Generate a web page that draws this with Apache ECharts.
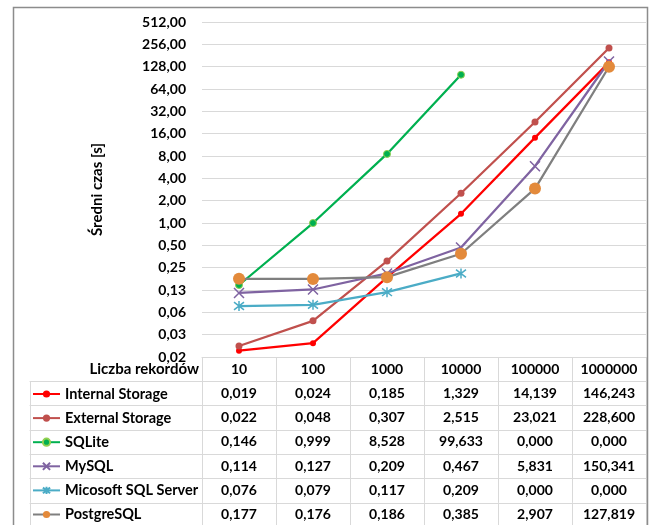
<!DOCTYPE html>
<html>
<head>
<meta charset="utf-8">
<script src="https://cdn.jsdelivr.net/npm/echarts@6/dist/echarts.min.js"></script>
<style>html,body{margin:0;padding:0;background:#fff}#c{width:655px;height:525px}</style>
</head>
<body>
<div id="c"></div>
<script>
const categories = ['10', '100', '1000', '10000', '100000', '1000000'];
const seriesNames = ['Internal Storage', 'External Storage', 'SQLite', 'MySQL', 'Micosoft SQL Server', 'PostgreSQL'];
const internalStorage = [0.019, 0.024, 0.185, 1.329, 14.139, 146.243];
const externalStorage = [0.022, 0.048, 0.307, 2.515, 23.021, 228.600];
const sqlite = [0.146, 0.999, 8.528, 99.633, 0, 0];
const mysql = [0.114, 0.127, 0.209, 0.467, 5.831, 150.341];
const mssql = [0.076, 0.079, 0.117, 0.209, 0, 0];
const postgres = [0.177, 0.176, 0.186, 0.385, 2.907, 127.819];
const yTickLabels = ['0,02', '0,03', '0,06', '0,13', '0,25', '0,50', '1,00', '2,00', '4,00', '8,00', '16,00', '32,00', '64,00', '128,00', '256,00', '512,00'];
const xAxisTitle = 'Liczba rekordów';
const yAxisTitle = 'Średni czas [s]';

const allSeries = [internalStorage, externalStorage, sqlite, mysql, mssql, postgres];
const FONT = 'Lato';
const ROW = 24.3;
const LINE_C = '#d9d9d9';
const fmt = v => v.toFixed(3).replace('.', ',');
const plotVal = arr => arr.map(v => (v > 0 ? v : null));

const X_PATH = 'path://M0,0L10,10M10,0L0,10';
const STAR_PATH = 'path://M0,0L10,10M10,0L0,10M5,-1.5L5,11.5';

const styles = [
  { line: '#FF0000', symbol: 'circle', size: 6, item: { color: '#FF0000' } },
  { line: '#C0504D', symbol: 'circle', size: 7, item: { color: '#C0504D' } },
  { line: '#00B050', symbol: 'circle', size: 7, item: { color: '#00B050', borderColor: '#92D050', borderWidth: 1 } },
  { line: '#7F63A1', symbol: X_PATH, size: 10, item: { color: 'rgba(0,0,0,0)', borderColor: '#7F63A1', borderWidth: 1.5 } },
  { line: '#4BACC6', symbol: STAR_PATH, size: 10, item: { color: 'rgba(0,0,0,0)', borderColor: '#4BACC6', borderWidth: 1.5 } },
  { line: '#7F7F7F', symbol: 'circle', size: 12, item: { color: '#E38A3B' } }
];

const xAxes = [];
xAxes.push({
  type: 'category', gridIndex: 0, data: categories, position: 'bottom',
  axisLine: { show: true, onZero: false, lineStyle: { color: LINE_C, width: 1 } },
  axisTick: { show: true, length: ROW, lineStyle: { color: LINE_C } },
  axisLabel: { color: '#000', fontFamily: FONT, fontWeight: 'bold', fontSize: 14, margin: 5 },
  splitLine: { show: false }
});
allSeries.forEach((arr, k) => {
  xAxes.push({
    type: 'category', gridIndex: 0, data: categories, position: 'bottom', offset: ROW * (k + 1),
    axisLine: { show: true, onZero: false, lineStyle: { color: LINE_C, width: 1 } },
    axisTick: { show: true, length: ROW, lineStyle: { color: LINE_C } },
    axisLabel: { color: '#000', fontFamily: FONT, fontWeight: 'bold', fontSize: 14, margin: 5,
      formatter: (val, idx) => fmt(arr[idx]) },
    splitLine: { show: false }
  });
});
allSeries.forEach((arr, k) => {
  xAxes.push({
    type: 'category', gridIndex: 1, data: [''], position: 'bottom', offset: ROW * (k + 1),
    axisLine: { show: true, onZero: false, lineStyle: { color: LINE_C, width: 1 } },
    axisTick: { show: true, length: ROW, lineStyle: { color: LINE_C } },
    axisLabel: { show: false },
    splitLine: { show: false }
  });
});

const option = {
  backgroundColor: '#fff',
  animation: false,
  textStyle: { fontFamily: FONT },
  title: {
    text: xAxisTitle, right: 655 - 199, top: 362, padding: 0,
    textStyle: { color: '#000', fontFamily: FONT, fontWeight: 'bold', fontSize: 15 }
  },
  grid: [
    { left: 202, right: 9, top: 22, bottom: 168, containLabel: false },
    { left: 30, width: 172, top: 22, bottom: 168, containLabel: false }
  ],
  legend: {
    orient: 'vertical', left: 32, top: 386.5, height: 220, padding: 0,
    itemWidth: 27, itemHeight: 9, itemGap: ROW - 15.2,
    textStyle: { color: '#000', fontFamily: FONT, fontWeight: 'bold', fontSize: 14.5, lineHeight: 14 },
    data: seriesNames
  },
  xAxis: xAxes,
  yAxis: [
    {
      type: 'log', logBase: 2, gridIndex: 0,
      min: Math.pow(2, -6), max: Math.pow(2, 9), interval: 1,
      axisLine: { show: false }, axisTick: { show: false },
      splitLine: { show: true, lineStyle: { color: LINE_C, width: 1 } },
      axisLabel: { color: '#000', fontFamily: FONT, fontWeight: 'bold', fontSize: 14, margin: 16,
        formatter: v => yTickLabels[Math.round(Math.log2(v)) + 6] },
      name: yAxisTitle, nameLocation: 'middle', nameGap: 97, nameRotate: 90,
      nameTextStyle: { color: '#000', fontFamily: FONT, fontWeight: 'bold', fontSize: 15 }
    },
    { type: 'value', gridIndex: 1, show: false }
  ],
  graphic: [
    { type: 'rect', silent: true, z: 100,
      shape: { x: 13.5, y: 7.5, width: 634, height: 540 },
      style: { fill: 'none', stroke: '#8c8c8c', lineWidth: 1.5 } }
  ],
  series: allSeries.map((arr, i) => ({
    name: seriesNames[i], type: 'line', xAxisIndex: 0, yAxisIndex: 0,
    data: plotVal(arr),
    symbol: styles[i].symbol, symbolSize: styles[i].size, showSymbol: true,
    lineStyle: { color: styles[i].line, width: 2.25 },
    itemStyle: styles[i].item,
    emphasis: { disabled: true },
    connectNulls: false
  }))
};

const chart = echarts.init(document.getElementById('c'), null, { renderer: 'canvas' });
chart.setOption(option);
</script>
</body>
</html>
